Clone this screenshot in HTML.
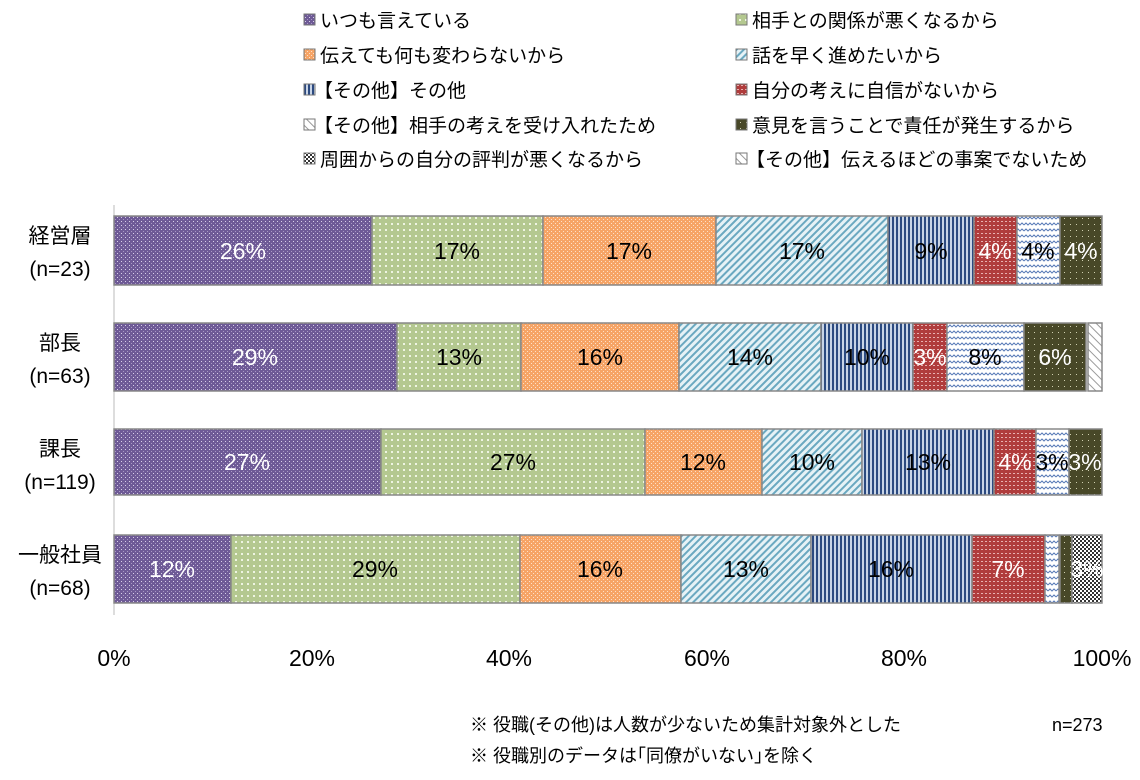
<!DOCTYPE html>
<html><head><meta charset="utf-8"><style>
body{margin:0;background:#fff;width:1140px;height:775px;overflow:hidden;font-family:"Liberation Sans","Noto Sans CJK JP",sans-serif}
</style></head><body>
<svg width="1140" height="775" xmlns="http://www.w3.org/2000/svg" font-family="Liberation Sans, Noto Sans CJK JP, sans-serif">
<defs>
<pattern id="p0" width="4" height="4" patternUnits="userSpaceOnUse"><rect width="4" height="4" fill="#6e5a96"/><rect x="1" y="1" width="1" height="1" fill="#d8d0e8"/><rect x="3" y="3" width="1" height="1" fill="#a898c4"/></pattern>
<pattern id="p1" width="6" height="6" patternUnits="userSpaceOnUse"><rect width="6" height="6" fill="#b4c890"/><rect x="1" y="1" width="2" height="2" fill="#eef4e2"/></pattern>
<pattern id="p2" width="4" height="4" patternUnits="userSpaceOnUse"><rect width="4" height="4" fill="#f6a466"/><rect x="1" y="1" width="1" height="1" fill="#fde0c8"/><rect x="3" y="3" width="1" height="1" fill="#fde0c8"/></pattern>
<pattern id="p3" width="5" height="5" patternUnits="userSpaceOnUse" patternTransform="rotate(45)"><rect width="5" height="5" fill="#e6f2f6"/><rect width="2" height="5" fill="#6aa8c0"/></pattern>
<pattern id="p4" width="4" height="4" patternUnits="userSpaceOnUse"><rect width="4" height="4" fill="#c8d4e6"/><rect width="2" height="4" fill="#2c4a80"/></pattern>
<pattern id="p5" width="4" height="4" patternUnits="userSpaceOnUse"><rect width="4" height="4" fill="#b03c3c"/><rect x="1" y="1" width="2" height="1" fill="#e8b0b0"/></pattern>
<pattern id="p6" width="8" height="6" patternUnits="userSpaceOnUse"><rect width="8" height="6" fill="#fff"/><path d="M0 3 L2 1 L4 3 L6 1 L8 3" stroke="#5a7cb8" fill="none"/></pattern>
<pattern id="p7" width="6" height="6" patternUnits="userSpaceOnUse"><rect width="6" height="6" fill="#484828"/><rect x="2" y="2" width="1" height="1" fill="#d0d0b0"/></pattern>
<pattern id="p8" width="6" height="6" patternUnits="userSpaceOnUse" patternTransform="rotate(-45)"><rect width="6" height="6" fill="#fff"/><rect width="1" height="6" fill="#999"/></pattern>
<pattern id="p9" width="4" height="4" patternUnits="userSpaceOnUse"><rect width="4" height="4" fill="#fff"/><rect width="2" height="2" fill="#333"/><rect x="2" y="2" width="2" height="2" fill="#333"/></pattern>
</defs>
<g font-size="19" fill="#000">
<rect x="304" y="14" width="11" height="11" fill="url(#p0)" stroke="#777"/><text x="320" y="27">いつも言えている</text>
<rect x="304" y="49" width="11" height="11" fill="url(#p2)" stroke="#777"/><text x="320" y="62">伝えても何も変わらないから</text>
<rect x="304" y="84" width="11" height="11" fill="url(#p4)" stroke="#777"/><text x="314" y="97">【その他】その他</text>
<rect x="304" y="119" width="11" height="11" fill="url(#p8)" stroke="#777"/><text x="314" y="132">【その他】相手の考えを受け入れたため</text>
<rect x="304" y="153" width="11" height="11" fill="url(#p9)" stroke="#777"/><text x="320" y="166">周囲からの自分の評判が悪くなるから</text>
<rect x="736" y="14" width="11" height="11" fill="url(#p1)" stroke="#777"/><text x="752" y="27">相手との関係が悪くなるから</text>
<rect x="736" y="49" width="11" height="11" fill="url(#p3)" stroke="#777"/><text x="752" y="62">話を早く進めたいから</text>
<rect x="736" y="84" width="11" height="11" fill="url(#p5)" stroke="#777"/><text x="752" y="97">自分の考えに自信がないから</text>
<rect x="736" y="119" width="11" height="11" fill="url(#p7)" stroke="#777"/><text x="752" y="132">意見を言うことで責任が発生するから</text>
<rect x="736" y="153" width="11" height="11" fill="url(#p8)" stroke="#777"/><text x="746" y="166">【その他】伝えるほどの事案でないため</text>
</g>
<line x1="114" y1="205" x2="114" y2="615" stroke="#bbb"/>
<g stroke="#888" stroke-width="1.5">
<rect x="114" y="216" width="258" height="69" fill="url(#p0)"/><rect x="372" y="216" width="171" height="69" fill="url(#p1)"/><rect x="543" y="216" width="173" height="69" fill="url(#p2)"/><rect x="716" y="216" width="172" height="69" fill="url(#p3)"/><rect x="888" y="216" width="86" height="69" fill="url(#p4)"/><rect x="974" y="216" width="43" height="69" fill="url(#p5)"/><rect x="1017" y="216" width="43" height="69" fill="url(#p6)"/><rect x="1060" y="216" width="42" height="69" fill="url(#p7)"/>
<rect x="114" y="323" width="283" height="68" fill="url(#p0)"/><rect x="397" y="323" width="124" height="68" fill="url(#p1)"/><rect x="521" y="323" width="158" height="68" fill="url(#p2)"/><rect x="679" y="323" width="142" height="68" fill="url(#p3)"/><rect x="821" y="323" width="92" height="68" fill="url(#p4)"/><rect x="913" y="323" width="34" height="68" fill="url(#p5)"/><rect x="947" y="323" width="77" height="68" fill="url(#p6)"/><rect x="1024" y="323" width="62" height="68" fill="url(#p7)"/><rect x="1088" y="323" width="14" height="68" fill="url(#p8)"/>
<rect x="114" y="429" width="267" height="66" fill="url(#p0)"/><rect x="381" y="429" width="264" height="66" fill="url(#p1)"/><rect x="645" y="429" width="117" height="66" fill="url(#p2)"/><rect x="762" y="429" width="100" height="66" fill="url(#p3)"/><rect x="862" y="429" width="132" height="66" fill="url(#p4)"/><rect x="994" y="429" width="42" height="66" fill="url(#p5)"/><rect x="1036" y="429" width="33" height="66" fill="url(#p6)"/><rect x="1069" y="429" width="33" height="66" fill="url(#p7)"/>
<rect x="114" y="535" width="117" height="68" fill="url(#p0)"/><rect x="231" y="535" width="289" height="68" fill="url(#p1)"/><rect x="520" y="535" width="161" height="68" fill="url(#p2)"/><rect x="681" y="535" width="130" height="68" fill="url(#p3)"/><rect x="811" y="535" width="161" height="68" fill="url(#p4)"/><rect x="972" y="535" width="73" height="68" fill="url(#p5)"/><rect x="1045" y="535" width="14" height="68" fill="url(#p6)"/><rect x="1060" y="535" width="12" height="68" fill="url(#p7)"/><rect x="1072" y="535" width="30" height="68" fill="url(#p9)"/>
</g>
<g font-size="23" text-anchor="middle">
<text x="243" y="259" fill="#fff">26%</text><text x="457" y="259">17%</text><text x="629" y="259">17%</text><text x="802" y="259">17%</text><text x="931" y="259">9%</text><text x="995" y="259" fill="#fff">4%</text><text x="1038" y="259">4%</text><text x="1081" y="259" fill="#fff">4%</text>
<text x="255" y="365" fill="#fff">29%</text><text x="459" y="365">13%</text><text x="600" y="365">16%</text><text x="750" y="365">14%</text><text x="867" y="365">10%</text><text x="930" y="365" fill="#fff">3%</text><text x="985" y="365">8%</text><text x="1055" y="365" fill="#fff">6%</text>
<text x="247" y="470" fill="#fff">27%</text><text x="513" y="470">27%</text><text x="703" y="470">12%</text><text x="812" y="470">10%</text><text x="928" y="470">13%</text><text x="1015" y="470" fill="#fff">4%</text><text x="1052" y="470">3%</text><text x="1085" y="470" fill="#fff">3%</text>
<text x="172" y="577" fill="#fff">12%</text><text x="375" y="577">29%</text><text x="600" y="577">16%</text><text x="746" y="577">13%</text><text x="891" y="577">16%</text><text x="1008" y="577" fill="#fff">7%</text><text x="1087" y="577" fill="#fff">3%</text>
</g>
<g font-size="21" text-anchor="middle">
<text x="60" y="243">経営層</text><text x="60" y="276">(n=23)</text>
<text x="60" y="350">部長</text><text x="60" y="383">(n=63)</text>
<text x="60" y="456">課長</text><text x="60" y="489">(n=119)</text>
<text x="60" y="562">一般社員</text><text x="60" y="595">(n=68)</text>
</g>
<g font-size="23" text-anchor="middle">
<text x="114" y="666">0%</text><text x="312" y="666">20%</text><text x="509" y="666">40%</text><text x="707" y="666">60%</text><text x="904" y="666">80%</text><text x="1102" y="666">100%</text>
</g>
<g font-size="18">
<text x="470" y="731">※  役職(その他)は人数が少ないため集計対象外とした</text>
<text x="1052" y="731">n=273</text>
<text x="470" y="762">※  役職別のデータは｢同僚がいない｣を除く</text>
</g>
</svg>
</body></html>
